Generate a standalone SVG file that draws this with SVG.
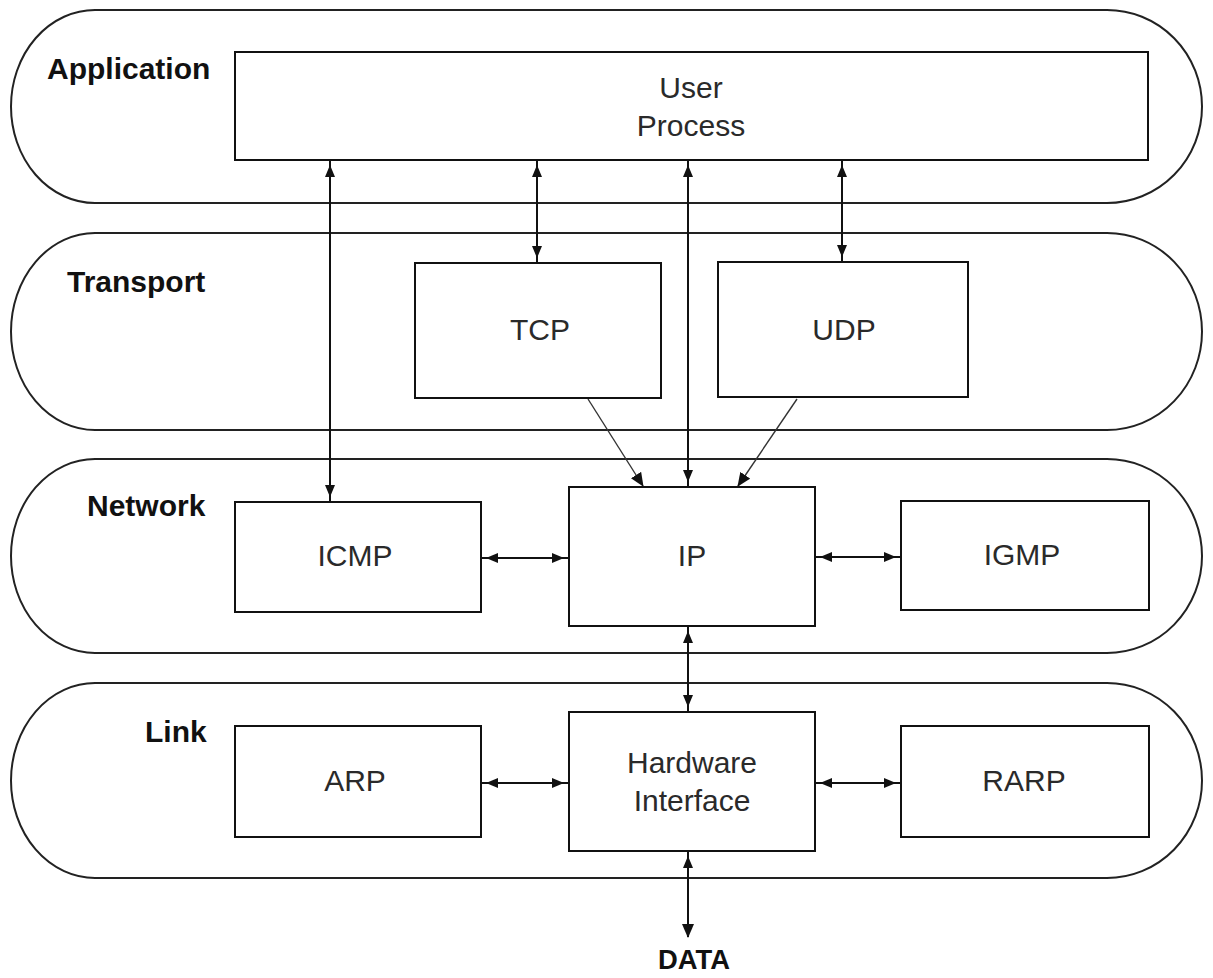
<svg xmlns="http://www.w3.org/2000/svg" width="1213" height="978" viewBox="0 0 1213 978">
  <style>
    .layer { fill: none; stroke: #222; stroke-width: 2; }
    .box { fill: #fff; stroke: #111; stroke-width: 2; }
    .lbl { font-family: "Liberation Sans", Arial, sans-serif; font-size: 30px; fill: #2a2a2a; text-anchor: middle; }
    .layer-name { font-family: "Liberation Sans", Arial, sans-serif; font-size: 30px; font-weight: bold; fill: #111; }
    .link { fill: none; stroke: #111; stroke-width: 2; }
    .diag { fill: none; stroke: #333; stroke-width: 1.4; }
  </style>
  <defs>
    <!-- arrowhead drawn a few px short of the line end -->
    <marker id="arr" viewBox="0 0 20 10" refX="17" refY="5" markerWidth="20" markerHeight="10" markerUnits="userSpaceOnUse" orient="auto-start-reverse">
      <path d="M0,0 L12,5 L0,10 z" fill="#111"/>
    </marker>
    <marker id="arrTip" viewBox="0 0 14 12" refX="13" refY="6" markerWidth="14" markerHeight="12" markerUnits="userSpaceOnUse" orient="auto">
      <path d="M0,0 L14,6 L0,12 z" fill="#111"/>
    </marker>
  </defs>

  <!-- layer bands -->
  <g id="layer-application">
    <path class="layer" d="M95,10 H1107 A95,96.5 0 0 1 1107,203 H95 A84,96.5 0 0 1 95,10 z"/>
    <text class="layer-name" x="47" y="79">Application</text>
  </g>
  <g id="layer-transport">
    <path class="layer" d="M95,233 H1107 A95,98.5 0 0 1 1107,430 H95 A84,98.5 0 0 1 95,233 z"/>
    <text class="layer-name" x="67" y="292">Transport</text>
  </g>
  <g id="layer-network">
    <path class="layer" d="M95,459 H1107 A95,97 0 0 1 1107,653 H95 A84,97 0 0 1 95,459 z"/>
    <text class="layer-name" x="87" y="516">Network</text>
  </g>
  <g id="layer-link">
    <path class="layer" d="M95,683 H1107 A95,97.5 0 0 1 1107,878 H95 A84,97.5 0 0 1 95,683 z"/>
    <text class="layer-name" x="145" y="742">Link</text>
  </g>

  <!-- connectors -->
  <g id="connectors">
    <line class="link" x1="330" y1="160" x2="330" y2="502" marker-start="url(#arr)" marker-end="url(#arr)"/>
    <line class="link" x1="537" y1="160" x2="537" y2="263" marker-start="url(#arr)" marker-end="url(#arr)"/>
    <line class="link" x1="688" y1="160" x2="688" y2="487" marker-start="url(#arr)" marker-end="url(#arr)"/>
    <line class="link" x1="842" y1="160" x2="842" y2="262" marker-start="url(#arr)" marker-end="url(#arr)"/>
    <line class="diag" x1="588" y1="399" x2="643" y2="486" marker-end="url(#arrTip)"/>
    <line class="diag" x1="797" y1="399" x2="738" y2="486" marker-end="url(#arrTip)"/>
    <line class="link" x1="481" y1="558" x2="569" y2="558" marker-start="url(#arr)" marker-end="url(#arr)"/>
    <line class="link" x1="815" y1="557" x2="901" y2="557" marker-start="url(#arr)" marker-end="url(#arr)"/>
    <line class="link" x1="688" y1="626" x2="688" y2="712" marker-start="url(#arr)" marker-end="url(#arr)"/>
    <line class="link" x1="481" y1="783" x2="569" y2="783" marker-start="url(#arr)" marker-end="url(#arr)"/>
    <line class="link" x1="815" y1="783" x2="901" y2="783" marker-start="url(#arr)" marker-end="url(#arr)"/>
    <line class="link" x1="688" y1="851" x2="688" y2="937" marker-start="url(#arr)" marker-end="url(#arrTip)"/>
  </g>

  <!-- protocol boxes -->
  <g id="user-process">
    <rect class="box" x="235" y="52" width="913" height="108"/>
    <text class="lbl" x="691" y="98">User</text>
    <text class="lbl" x="691" y="136">Process</text>
  </g>
  <g id="tcp">
    <rect class="box" x="415" y="263" width="246" height="135"/>
    <text class="lbl" x="540" y="340">TCP</text>
  </g>
  <g id="udp">
    <rect class="box" x="718" y="262" width="250" height="135"/>
    <text class="lbl" x="844" y="340">UDP</text>
  </g>
  <g id="icmp">
    <rect class="box" x="235" y="502" width="246" height="110"/>
    <text class="lbl" x="355" y="566">ICMP</text>
  </g>
  <g id="ip">
    <rect class="box" x="569" y="487" width="246" height="139"/>
    <text class="lbl" x="692" y="566">IP</text>
  </g>
  <g id="igmp">
    <rect class="box" x="901" y="501" width="248" height="109"/>
    <text class="lbl" x="1022" y="565">IGMP</text>
  </g>
  <g id="arp">
    <rect class="box" x="235" y="726" width="246" height="111"/>
    <text class="lbl" x="355" y="791">ARP</text>
  </g>
  <g id="hardware-interface">
    <rect class="box" x="569" y="712" width="246" height="139"/>
    <text class="lbl" x="692" y="773">Hardware</text>
    <text class="lbl" x="692" y="811">Interface</text>
  </g>
  <g id="rarp">
    <rect class="box" x="901" y="726" width="248" height="111"/>
    <text class="lbl" x="1024" y="791">RARP</text>
  </g>
  <g id="data">
    <text class="layer-name" x="694" y="969" text-anchor="middle" style="font-size:28px" textLength="72" lengthAdjust="spacingAndGlyphs">DATA</text>
  </g>
</svg>
